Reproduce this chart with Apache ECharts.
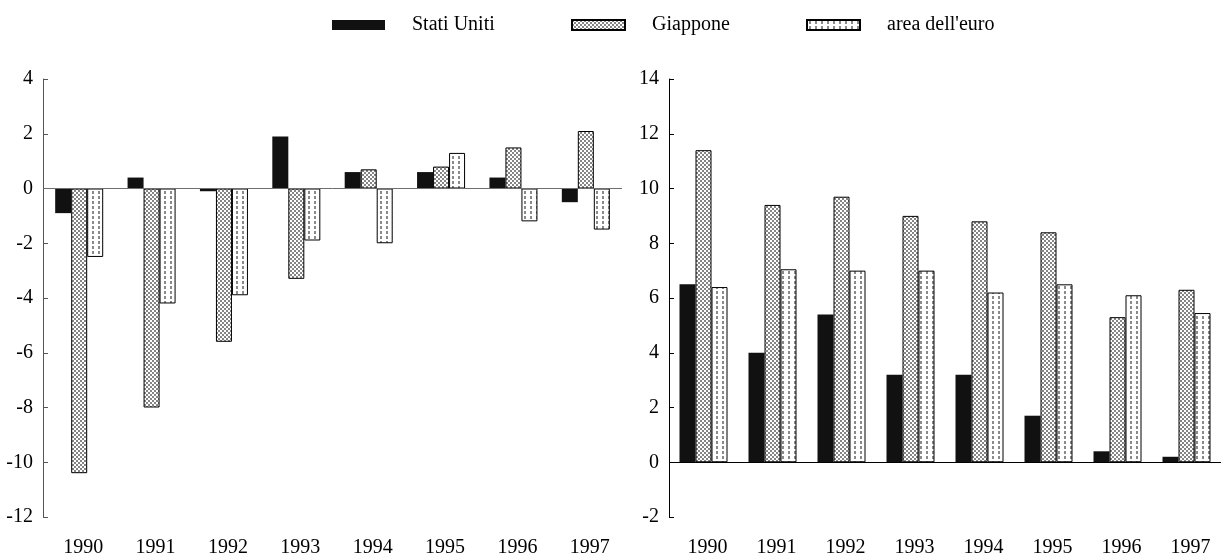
<!DOCTYPE html>
<html>
<head>
<meta charset="utf-8">
<script src="https://cdn.jsdelivr.net/npm/echarts@6/dist/echarts.min.js"></script>
<style>
  html, body { margin: 0; padding: 0; background: #fff; }
  #chart { width: 1221px; height: 558px; }
</style>
</head>
<body>
<div id="chart"></div>
<script>
// Categories
const years = ['1990', '1991', '1992', '1993', '1994', '1995', '1996', '1997'];
const seriesNames = ['Stati Uniti', 'Giappone', "area dell'euro"];

// Left panel values
const usLeft = [-0.9, 0.4, -0.1, 1.9, 0.6, 0.6, 0.4, -0.5];
const jpLeft = [-10.4, -8.0, -5.6, -3.3, 0.7, 0.8, 1.5, 2.1];
const euLeft = [-2.5, -4.2, -3.9, -1.9, -2.0, 1.3, -1.2, -1.5];

// Right panel values
const usRight = [6.5, 4.0, 5.4, 3.2, 3.2, 1.7, 0.4, 0.2];
const jpRight = [11.4, 9.4, 9.7, 9.0, 8.8, 8.4, 5.3, 6.3];
const euRight = [6.4, 7.05, 7.0, 7.0, 6.2, 6.5, 6.1, 5.45];

// Value axis ranges
const leftRange = { min: -12, max: 4, step: 2 };
const rightRange = { min: -2, max: 14, step: 2 };

const FONT = 'Liberation Serif';

// Fill patterns
function makePattern(w, h, draw) {
  const c = document.createElement('canvas');
  c.width = w; c.height = h;
  const ctx = c.getContext('2d');
  ctx.fillStyle = '#ffffff';
  ctx.fillRect(0, 0, w, h);
  draw(ctx);
  return { image: c, repeat: 'repeat' };
}
const checker = makePattern(4, 4, ctx => {
  ctx.fillStyle = '#858585';
  ctx.fillRect(0, 0, 2, 2);
  ctx.fillRect(2, 2, 2, 2);
});
const dashes = makePattern(6, 5, ctx => {
  ctx.fillStyle = '#8a8a8a';
  ctx.fillRect(2, 1, 2, 3);
});

const styles = [
  { color: '#111111', borderWidth: 0 },
  { color: checker, borderColor: '#000', borderWidth: 1 },
  { color: dashes, borderColor: '#000', borderWidth: 1 }
];

function valueAxis(gridIndex, range, lineColor) {
  return {
    type: 'value', gridIndex,
    min: range.min, max: range.max, interval: range.step,
    axisLine: { show: true, lineStyle: { color: lineColor, width: 1 } },
    axisTick: { show: true, inside: true, length: 5, lineStyle: { color: lineColor } },
    axisLabel: { color: '#000', fontFamily: FONT, fontSize: 20, margin: 10 },
    splitLine: { show: false }
  };
}
function catAxis(gridIndex) {
  return {
    type: 'category', gridIndex, data: years,
    axisLine: { show: false, onZero: false },
    axisTick: { show: false },
    axisLabel: { color: '#000', fontFamily: FONT, fontSize: 20, margin: 21, padding: [0, 0, 0, 8] },
    splitLine: { show: false }
  };
}

function barSeries(idx, name, data, s, zeroColor) {
  const ser = {
    type: 'bar', name, data,
    xAxisIndex: idx, yAxisIndex: idx,
    barWidth: 16, barGap: '0%',
    itemStyle: s,
    animation: false
  };
  if (zeroColor) {
    ser.markLine = {
      silent: true, symbol: 'none', animation: false,
      label: { show: false },
      lineStyle: { color: zeroColor, type: 'solid', width: 1 },
      data: [{ yAxis: 0 }]
    };
  }
  return ser;
}

const legendPos = [327, 566, 801];
const legends = seriesNames.map((n, i) => ({
  data: [n], left: legendPos[i], top: 10,
  icon: 'rect', itemWidth: 53, itemHeight: 10, itemGap: 0,
  selectedMode: false,
  textStyle: { fontFamily: FONT, fontSize: 20, color: '#000', padding: [0, 0, 0, 22] }
}));

const chart = echarts.init(document.getElementById('chart'), null, { renderer: 'canvas' });
chart.setOption({
  animation: false,
  backgroundColor: '#ffffff',
  legend: legends,
  grid: [
    { left: 43, top: 79, width: 579, height: 439.5 },
    { left: 669, top: 79, width: 561, height: 439.5 }
  ],
  xAxis: [catAxis(0), catAxis(1)],
  yAxis: [valueAxis(0, leftRange, '#555'), valueAxis(1, rightRange, '#000')],
  series: [
    barSeries(0, seriesNames[0], usLeft, styles[0], '#6e6e6e'),
    barSeries(0, seriesNames[1], jpLeft, styles[1]),
    barSeries(0, seriesNames[2], euLeft, styles[2]),
    barSeries(1, seriesNames[0], usRight, styles[0], '#000'),
    barSeries(1, seriesNames[1], jpRight, styles[1]),
    barSeries(1, seriesNames[2], euRight, styles[2])
  ]
});
</script>
</body>
</html>
